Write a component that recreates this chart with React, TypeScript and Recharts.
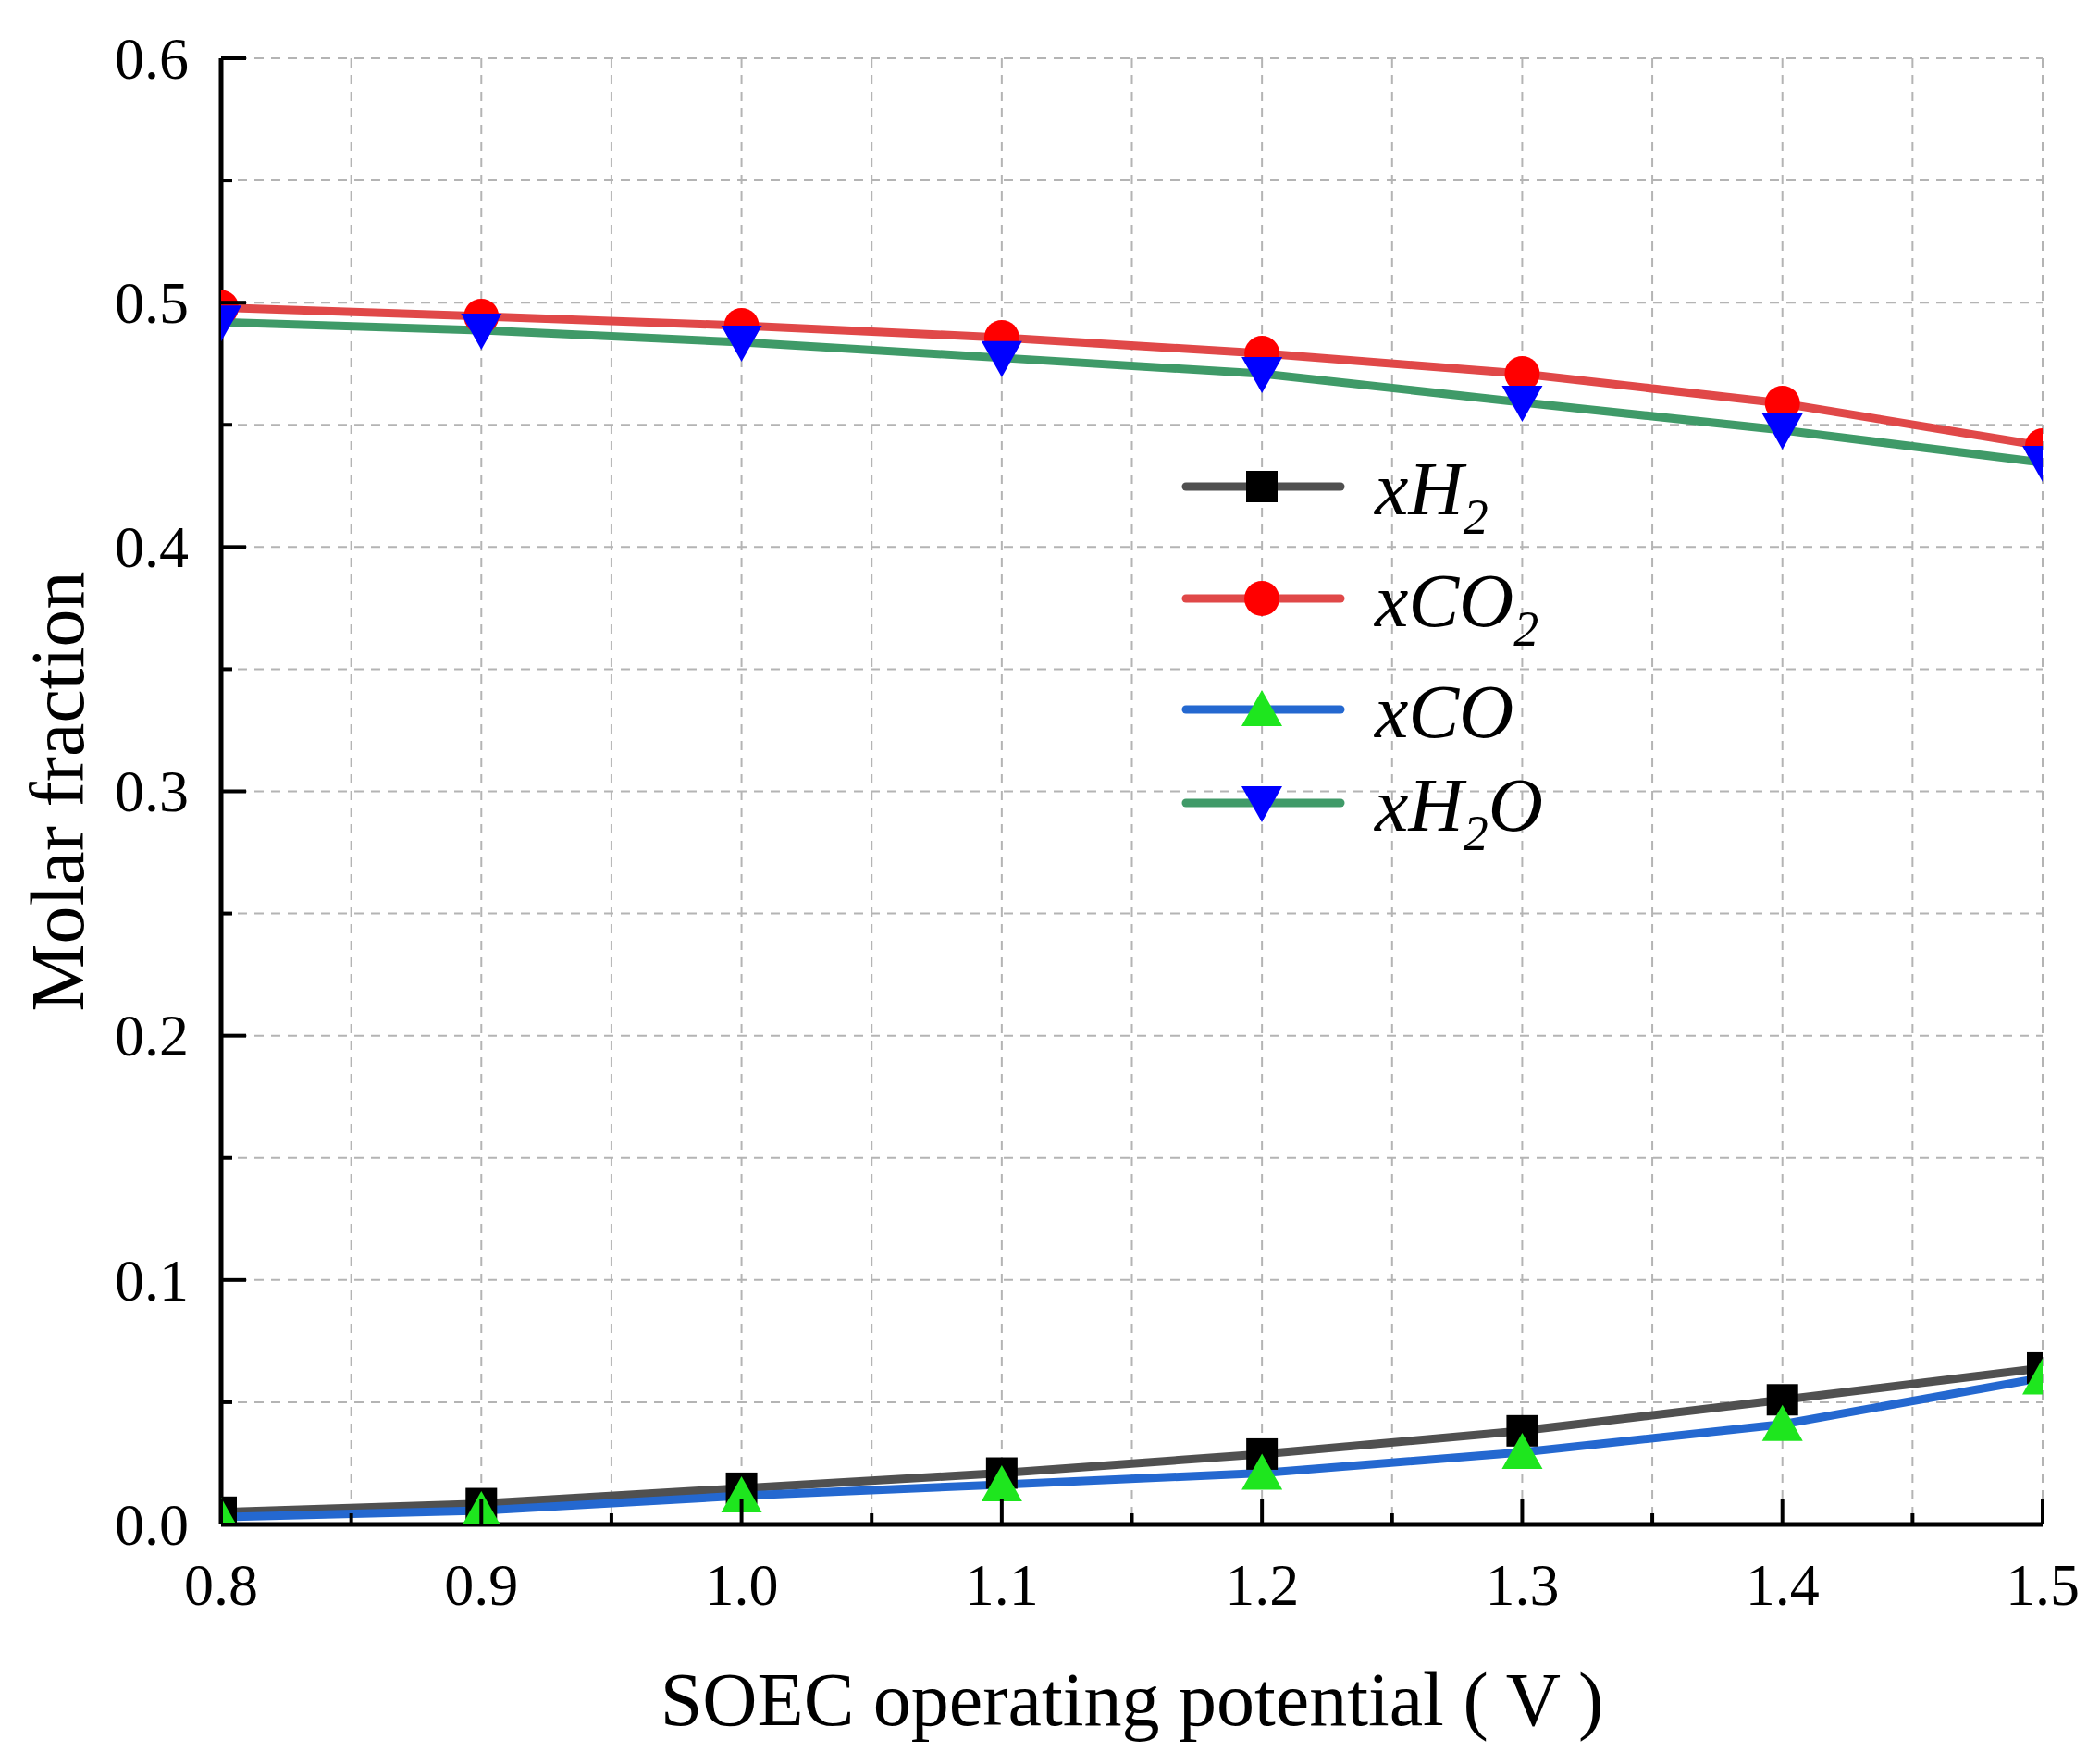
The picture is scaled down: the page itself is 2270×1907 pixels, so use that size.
import React from 'react';
import { LineChart, Line, XAxis, YAxis, CartesianGrid, Legend } from 'recharts';

const voltage = [0.8, 0.9, 1.0, 1.1, 1.2, 1.3, 1.4, 1.5];
const xH2 = [0.005, 0.0085, 0.0148, 0.021, 0.0288, 0.0383, 0.051, 0.064];
const xCO2 = [0.498, 0.4944, 0.4906, 0.4857, 0.4792, 0.4709, 0.4588, 0.4414];
const xCO = [0.003, 0.0057, 0.0117, 0.0163, 0.021, 0.0295, 0.041, 0.06];
const xH2O = [0.492, 0.4887, 0.4838, 0.4774, 0.4709, 0.4592, 0.4478, 0.4346];

const xTicks = [0.8, 0.85, 0.9, 0.95, 1.0, 1.05, 1.1, 1.15, 1.2, 1.25, 1.3, 1.35, 1.4, 1.45, 1.5];
const yTicks = [0, 0.05, 0.1, 0.15, 0.2, 0.25, 0.3, 0.35, 0.4, 0.45, 0.5, 0.55, 0.6];

const data = voltage.map((v, i) => ({ v, xH2: xH2[i], xCO2: xCO2[i], xCO: xCO[i], xH2O: xH2O[i] }));

type Marker = 'square' | 'circle' | 'up' | 'down';
const series: { key: string; line: string; fill: string; marker: Marker; label: [string, string, string] }[] = [
  { key: 'xH2', line: '#505050', fill: '#000000', marker: 'square', label: ['xH', '2', ''] },
  { key: 'xCO2', line: '#e04848', fill: '#ff0000', marker: 'circle', label: ['xCO', '2', ''] },
  { key: 'xCO', line: '#2468d0', fill: '#1ee61e', marker: 'up', label: ['xCO', '', ''] },
  { key: 'xH2O', line: '#3f9a68', fill: '#0000ff', marker: 'down', label: ['xH', '2', 'O'] },
];

const FONT = '"Liberation Serif", "Times New Roman", serif';

const drawMarker = (m: Marker, cx: number, cy: number, fill: string, k?: string) => {
  if (m === 'square') return <rect key={k} x={cx - 17} y={cy - 17} width={34} height={34} fill={fill} />;
  if (m === 'circle') return <circle key={k} cx={cx} cy={cy} r={19} fill={fill} />;
  if (m === 'up')
    return <polygon key={k} points={`${cx},${cy - 21} ${cx - 22},${cy + 18} ${cx + 22},${cy + 18}`} fill={fill} />;
  return <polygon key={k} points={`${cx},${cy + 21} ${cx - 22},${cy - 18} ${cx + 22},${cy - 18}`} fill={fill} />;
};

const isMajor = (v: number) => Math.abs(v * 10 - Math.round(v * 10)) < 1e-6;

const BottomTick = (p: any) => {
  const v = p.payload.value;
  const len = isMajor(v) ? 27 : 12;
  return (
    <g>
      <line x1={p.x} y1={p.y} x2={p.x} y2={p.y - len} stroke="#000" strokeWidth={4} />
      {isMajor(v) && (
        <text x={p.x} y={p.y + 87} textAnchor="middle" fontFamily={FONT} fontSize={64} fill="#000">
          {v.toFixed(1)}
        </text>
      )}
    </g>
  );
};

const TopTick = (p: any) => {
  const len = isMajor(p.payload.value) ? 27 : 12;
  return <line x1={p.x} y1={p.y} x2={p.x} y2={p.y + len} stroke="#000" strokeWidth={4} />;
};

const LeftTick = (p: any) => {
  const v = p.payload.value;
  const len = isMajor(v) ? 27 : 12;
  return (
    <g>
      <line x1={p.x} y1={p.y} x2={p.x + len} y2={p.y} stroke="#000" strokeWidth={4} />
      {isMajor(v) && (
        <text x={p.x - 35} y={p.y} dy="0.34em" textAnchor="end" fontFamily={FONT} fontSize={64} fill="#000">
          {v.toFixed(1)}
        </text>
      )}
    </g>
  );
};

const RightTick = (p: any) => {
  const len = isMajor(p.payload.value) ? 27 : 12;
  return <line x1={p.x} y1={p.y} x2={p.x - len} y2={p.y} stroke="#000" strokeWidth={4} />;
};

const rowY = [76, 197, 317, 418];

const renderLegend = () => (
  <svg width={520} height={470} style={{ overflow: 'visible' }}>
    {series.map((s, i) => {
      const y = rowY[i];
      return (
        <g key={s.key}>
          <line x1={16} y1={y} x2={183} y2={y} stroke={s.line} strokeWidth={9} strokeLinecap="round" />
          {drawMarker(s.marker, 98, y, s.fill)}
          <text x={220} y={y + 30} fontFamily={FONT} fontStyle="italic" fontSize={82} fill="#000">
            {s.label[0]}
            {s.label[1] && (
              <tspan dy={21} fontSize={54}>
                {s.label[1]}
              </tspan>
            )}
            {s.label[2] && <tspan dy={-21}>{s.label[2]}</tspan>}
          </text>
        </g>
      );
    })}
  </svg>
);

export default function App() {
  return (
    <div style={{ position: 'absolute', left: 0, top: 0, width: 2270, height: 1907, background: '#fff' }}>
      <LineChart width={2270} height={1907} data={data} margin={{ top: 63, right: 62, bottom: 159, left: 139 }}>
        <CartesianGrid xAxisId="b" yAxisId="l" stroke="#b4b4b4" strokeWidth={2} strokeDasharray="10 8" />
        <XAxis
          xAxisId="b"
          dataKey="v"
          type="number"
          domain={[0.8, 1.5]}
          ticks={xTicks}
          allowDataOverflow
          height={100}
          tickSize={0}
          tickMargin={0}
          interval={0}
          axisLine={{ stroke: '#000', strokeWidth: 5 }}
          tick={BottomTick}
          label={{
            content: (lp: any) => {
              const vb = lp.viewBox;
              return (
                <text x={vb.x + vb.width / 2} y={vb.y + 217} textAnchor="middle" fontFamily={FONT} fontSize={82} fill="#000">
                  SOEC operating potential ( V )
                </text>
              );
            },
          }}
        />
        <XAxis
          xAxisId="t"
          dataKey="v"
          type="number"
          orientation="top"
          domain={[0.8, 1.5]}
          ticks={xTicks}
          allowDataOverflow
          height={0}
          tickSize={0}
          tickMargin={0}
          interval={0}
          axisLine={{ stroke: '#000', strokeWidth: 5 }}
          tick={TopTick}
        />
        <YAxis
          yAxisId="l"
          type="number"
          domain={[0, 0.6]}
          ticks={yTicks}
          allowDataOverflow
          width={100}
          tickSize={0}
          tickMargin={0}
          interval={0}
          axisLine={{ stroke: '#000', strokeWidth: 5 }}
          tick={LeftTick}
          label={{
            content: (lp: any) => {
              const vb = lp.viewBox;
              const cy = vb.y + vb.height / 2;
              return (
                <text
                  transform={`translate(${vb.x - 49}, ${cy}) rotate(-90)`}
                  textAnchor="middle"
                  fontFamily={FONT}
                  fontSize={82}
                  fill="#000"
                >
                  Molar fraction
                </text>
              );
            },
          }}
        />
        <YAxis
          yAxisId="r"
          orientation="right"
          type="number"
          domain={[0, 0.6]}
          ticks={yTicks}
          allowDataOverflow
          width={0}
          tickSize={0}
          tickMargin={0}
          interval={0}
          axisLine={{ stroke: '#000', strokeWidth: 5 }}
          tick={RightTick}
        />
        <Legend
          layout="vertical"
          align="center"
          verticalAlign="middle"
          wrapperStyle={{ left: 1266, top: 450, width: 520, height: 470 }}
          content={renderLegend}
        />
        {series.map((s) => (
          <Line
            key={s.key}
            xAxisId="b"
            yAxisId="l"
            dataKey={s.key}
            stroke={s.line}
            strokeWidth={9}
            isAnimationActive={false}
            dot={(dp: any) => drawMarker(s.marker, dp.cx, dp.cy, s.fill, `${s.key}-${dp.index}`)}
            activeDot={false}
          />
        ))}
      </LineChart>
    </div>
  );
}
